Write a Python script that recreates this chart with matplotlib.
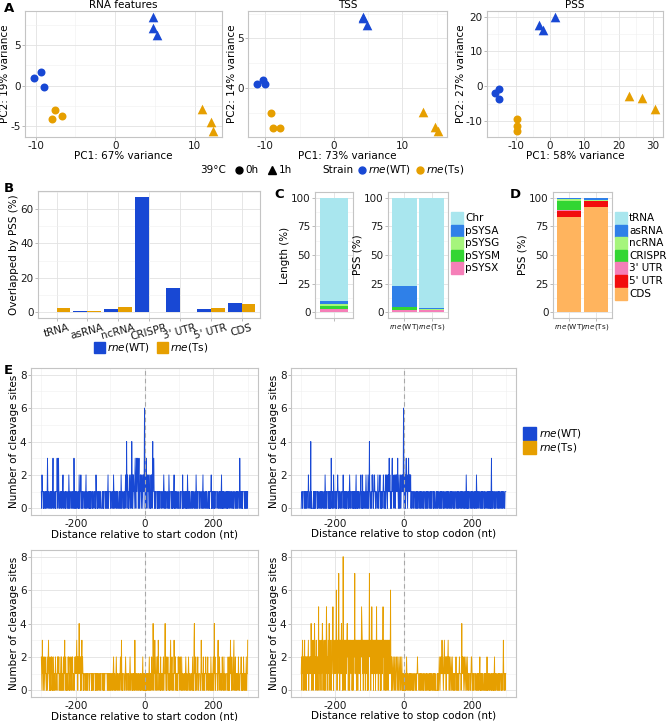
import numpy as np
import matplotlib.pyplot as plt
from matplotlib.patches import Rectangle
from matplotlib.ticker import MultipleLocator, AutoMinorLocator

plt.rcParams['axes.unicode_minus'] = False

# ---- data ---------------------------------------------------------------
strain = ['WT'] * 3 + ['Ts'] * 3 + ['WT'] * 3 + ['Ts'] * 3
hour = ['0h'] * 6 + ['1h'] * 6

rna_pc1 = [-10.2, -9.3, -9.0, -7.5, -7.9, -6.7, 4.8, 4.8, 5.2, 10.9, 12.0, 12.3]
rna_pc2 = [1.0, 1.7, -0.1, -3.0, -4.1, -3.7, 8.5, 7.1, 6.3, -2.9, -4.5, -5.6]
tss_pc1 = [-11.2, -10.3, -10.0, -9.1, -8.8, -7.8, 4.2, 4.3, 4.9, 13.0, 14.7, 15.2]
tss_pc2 = [0.4, 0.8, 0.4, -2.6, -4.1, -4.1, 7.2, 7.1, 6.4, -2.4, -4.0, -4.4]
pss_pc1 = [-14.9, -16.0, -14.9, -9.7, -9.7, -9.7, -3.1, -2.0, 1.4, 22.9, 26.9, 30.6]
pss_pc2 = [-0.8, -2.0, -3.7, -9.6, -11.5, -13.0, 17.7, 16.3, 20.0, -2.9, -3.4, -6.7]

features = ['tRNA', 'asRNA', 'ncRNA', 'CRISPR', "3' UTR", "5' UTR", 'CDS']
overlap_wt = [0.0, 0.5, 1.8, 67.0, 14.0, 1.8, 5.6]
overlap_ts = [2.3, 0.8, 3.1, 0.0, 0.0, 2.3, 5.0]

replicons = ['Chr', 'pSYSA', 'pSYSG', 'pSYSM', 'pSYSX']
length_pct = [90.5, 2.6, 1.1, 3.0, 2.8]
pss_rep_wt = [77.0, 18.0, 0.8, 2.0, 2.2]
pss_rep_ts = [96.6, 0.8, 0.3, 0.5, 1.8]

classes = ['tRNA', 'asRNA', 'ncRNA', 'CRISPR', "3' UTR", "5' UTR", 'CDS']
class_wt = [0.4, 0.7, 1.6, 8.3, 0.3, 5.7, 83.0]
class_ts = [0.4, 1.6, 1.0, 0.0, 0.2, 5.3, 91.5]

# cleavage sites per position, -300..300 nt (one digit per nt)
wt_start = """
1021110100 1101110131 0111001101 1011301110 0101113101
3100111011 0112011100 1011100110 2101110011 0111031010
1101110010 2101121011 0111001101 2011100110 1010111001
0011110102 1100101111 0110000110 1011110110 1101201111
1011100110 2101111011 0110001101 1021011100 1101120141
2101012102 1014202121 0123102312 3202310121 2012102212
6202131012 1210120102 1202412310 1101111010 1101101111
0111012101 1011100110 0210111101 1010112010 1101110010
0001101111 0201101110 1101021011 0110001101 1011100110
2101101111 0111001101 2011100110 1100011010 1111201011
0110101111 1011100110 1101201011 0110001101 1010111101
1101110010 0111001101 1011100311 0110101111 1011010110
1"""
wt_stop = """
0111011110 1101101111 0211100140 1000001010 1101111010
0111001101 1011100110 2101101111 0110101031 1011021110
1101011210 1011100110 0112101101 1010111001 0121011110
1101011010 1200101011 1001120110 2011001101 2101102101
4110011021 2101121101 1100121011 1201101011 1210110201
2110212131 2101102312 1102110212 1213101201 1201122121
6202120231 2102231212 1201101111 0111001101 1011100110
1101110010 0111001101 1011100110 1101111010 0110001101
1011100110 1101110010 0111001101 1011100110 1101110010
0111001101 1011100110 1101110010 0110210101 1011100110
1101110010 0110210111 1011100110 1101110010 0111001101
1011010130 1101110010 0111001101 1011100110 1101110011
1"""
ts_start = """
2103120121 0211101201 2311020102 1201021011 0211100212
1201101202 1011021130 1201011021 2010211012 1201100121
2123120212 4212020231 2101011110 1101101111 0111110101
1011111010 1101101111 0110111110 1011011111 1101101101
1011101101 2101100121 0110011101 2103101011 1100121011
1101100121 0111001011 1031101100 1101110010 1100120100
1010110101 1101201101 1201142011 3110210021 3201110201
1101120112 4110201121 1010123011 2011103121 2011010021
2110211021 0111001101 2101100121 0110011101 2010341102
1101120011 1100131101 1201101121 1011201101 1102101101
2014120111 1102311021 1101102110 1201110011 1102011021
3110211012 3011201101 1102110011 1201101021 1011012011
3"""
ts_stop = """
1202312021 3021202121 2302121214 2031202314 2120312021
2502131203 1243021302 1302531203 2142031203 2135203121
3126302313 7230313241 3038303230 3231342303 2303231320
1303232713 2303230323 1323032543 1303132303 2313030323
7323031523 1303132303 2513230323 1303032313 5230323032
3032303231 3261202101 2101200122 1012001210 1200121010
0101101012 1011100110 1101110010 0111001101 1211100110
1101110010 0111001101 1000110101 1011100110 1101000001
0110121012 1213121012 3121202121 2312021012 1012101101
1011210110 1101211110 1412121012 1012101210 1101111012
2101101111 0111001101 1011201011 0110001101 1011020101
1101110010 0110101201 1011100110 1101110010 0113101101
1"""

# ---- helpers ------------------------------------------------------------
BLUE = '#1848D4'
ORANGE = '#E69F00'
rep_cols = ['#A9E6EE', '#2F80E8', '#A6F57C', '#33D633', '#F57FB8']
class_cols = ['#A9E6EE', '#2F80E8', '#A6F57C', '#33D633', '#F57FB8', '#F20D0D', '#FFB45E']

W, H = 667, 721
fig = plt.figure(figsize=(W / 100, H / 100), dpi=100)
FS = 7.5


def px_axes(l, t, r, b):
    return fig.add_axes([l / W, 1 - b / H, (r - l) / W, (b - t) / H])


def light(ax):
    ax.set_facecolor('white')
    for s in ax.spines.values():
        s.set_color('#c4c4c4')
        s.set_linewidth(0.8)
    ax.grid(True, which='major', color='#e2e2e2', lw=0.6)
    ax.grid(True, which='minor', color='#f0f0f0', lw=0.4)
    ax.set_axisbelow(True)
    ax.tick_params(which='major', length=2.2, width=0.6, color='#b0b0b0',
                   labelsize=FS, labelcolor='#1a1a1a', pad=1)
    ax.tick_params(which='minor', length=0)


def counts(s):
    v = np.array([int(c) for c in ''.join(s.split())])
    assert len(v) == 601, len(v)
    return v


# ---- A: PCA -------------------------------------------------------------
pca = [('RNA features', rna_pc1, rna_pc2, 67, 19, (25, 11, 222, 137), 10, 5),
       ('TSS', tss_pc1, tss_pc2, 73, 14, (248, 11, 447, 137), 10, 5),
       ('PSS', pss_pc1, pss_pc2, 58, 27, (487, 11, 663, 137), 10, 10)]
for title, x, y, v1, v2, box, mx, my in pca:
    ax = px_axes(*box)
    light(ax)
    for i in range(len(x)):
        ax.scatter(x[i], y[i], s=33 if hour[i] == '0h' else 48,
                   marker='o' if hour[i] == '0h' else '^',
                   color=BLUE if strain[i] == 'WT' else ORANGE,
                   linewidths=0, zorder=3)
    ax.margins(0.05)
    ax.xaxis.set_major_locator(MultipleLocator(mx))
    ax.yaxis.set_major_locator(MultipleLocator(my))
    ax.xaxis.set_minor_locator(AutoMinorLocator(2))
    ax.yaxis.set_minor_locator(AutoMinorLocator(2))
    ax.set_title(title, fontsize=FS, pad=2)
    ax.set_xlabel(f'PC1: {v1}% variance', fontsize=FS, labelpad=0)
    ax.set_ylabel(f'PC2: {v2}% variance', fontsize=FS, labelpad=0)

# ---- B: overlap bars ----------------------------------------------------
axb = px_axes(38, 191, 260, 318)
light(axb)
xb = np.arange(len(features))
axb.bar(xb - 0.225, overlap_wt, 0.45, color=BLUE, zorder=3)
axb.bar(xb + 0.225, overlap_ts, 0.45, color=ORANGE, zorder=3)
top = max(overlap_wt)
axb.set_xlim(-0.6, len(features) - 0.4)
axb.set_ylim(-0.05 * top, 1.05 * top)
axb.yaxis.set_major_locator(MultipleLocator(20))
axb.yaxis.set_minor_locator(MultipleLocator(10))
axb.set_xticks(xb)
axb.set_xticklabels(features, rotation=15, ha='center', fontsize=FS)
axb.set_ylabel('Overlapped by PSS (%)', fontsize=FS, labelpad=1)


# ---- C / D: stacked bars ------------------------------------------------
def stacked(ax, cols_data, colors, nbars):
    xs = np.arange(nbars)
    bottom = np.zeros(nbars)
    n = len(cols_data[0])
    for k in range(n - 1, -1, -1):
        h = np.array([c[k] for c in cols_data])
        ax.bar(xs, h, 0.9, bottom=bottom, color=colors[k], zorder=3)
        bottom += h
    ax.set_xlim(-0.6, nbars - 0.4)
    ax.set_ylim(-5, 105)
    ax.yaxis.set_major_locator(MultipleLocator(25))
    ax.yaxis.set_minor_locator(MultipleLocator(12.5))
    ax.set_xticks(xs)


strain_lbl = [r'$\it{rne}$(WT)', r'$\it{rne}$(Ts)']

axc1 = px_axes(315, 192, 353, 318)
light(axc1)
stacked(axc1, [length_pct], rep_cols, 1)
axc1.set_xticklabels([''])
axc1.set_ylabel('Length (%)', fontsize=FS, labelpad=1)

axc2 = px_axes(388, 192, 448, 318)
light(axc2)
stacked(axc2, [pss_rep_wt, pss_rep_ts], rep_cols, 2)
axc2.set_xticklabels(strain_lbl, fontsize=5.2)
axc2.set_ylabel('PSS (%)', fontsize=FS, labelpad=1)

axd = px_axes(553, 192, 612, 318)
light(axd)
stacked(axd, [class_wt, class_ts], class_cols, 2)
axd.set_xticklabels(strain_lbl, fontsize=5.2)
axd.set_ylabel('PSS (%)', fontsize=FS, labelpad=1)

# ---- E: cleavage-site profiles ------------------------------------------
pos = np.arange(-300, 301)
prof = [(wt_start, BLUE, 'start', (31, 368, 258, 515)),
        (wt_stop, BLUE, 'stop', (291, 368, 516, 515)),
        (ts_start, ORANGE, 'start', (31, 550, 258, 697)),
        (ts_stop, ORANGE, 'stop', (291, 550, 516, 697))]
for s, col, kind, box in prof:
    ax = px_axes(*box)
    light(ax)
    ax.plot(pos, counts(s), color=col, lw=0.65, zorder=3)
    ax.axvline(0, color='#a8a8a8', lw=0.8, ls=(0, (4, 3)), zorder=4)
    ax.set_xlim(-330, 330)
    ax.set_ylim(-0.4, 8.4)
    ax.xaxis.set_major_locator(MultipleLocator(200))
    ax.xaxis.set_minor_locator(MultipleLocator(100))
    ax.yaxis.set_major_locator(MultipleLocator(2))
    ax.yaxis.set_minor_locator(MultipleLocator(1))
    ax.set_xlabel(f'Distance relative to {kind} codon (nt)', fontsize=FS, labelpad=0)
    ax.set_ylabel('Number of cleavage sites', fontsize=FS, labelpad=1)

# ---- overlay: panel letters and legends ---------------------------------
ov = fig.add_axes([0, 0, 1, 1])
ov.set_xlim(0, W)
ov.set_ylim(H, 0)
ov.axis('off')

for letter, lx, ly in [('A', 4, 9), ('B', 4, 189), ('C', 274, 194),
                       ('D', 510, 194), ('E', 4, 370)]:
    ov.text(lx, ly, letter, fontsize=9.5, fontweight='bold', va='center')

# A legend row
ly = 170
ov.text(200, ly, '39°C', fontsize=FS, va='center')
ov.plot(239, ly, 'o', color='k', ms=5)
ov.text(245, ly, '0h', fontsize=FS, va='center')
ov.plot(272, ly, '^', color='k', ms=6)
ov.text(279, ly, '1h', fontsize=FS, va='center')
ov.text(322, ly, 'Strain', fontsize=FS, va='center')
ov.plot(362, ly, 'o', color=BLUE, ms=5)
ov.text(368, ly, strain_lbl[0], fontsize=FS, va='center')
ov.plot(420, ly, 'o', color=ORANGE, ms=5)
ov.text(426, ly, strain_lbl[1], fontsize=FS, va='center')

# B legend
ov.add_patch(Rectangle((94, 342), 11, 11, color=BLUE))
ov.text(107, 347.5, strain_lbl[0], fontsize=FS, va='center')
ov.add_patch(Rectangle((157, 342), 11, 11, color=ORANGE))
ov.text(170, 347.5, strain_lbl[1], fontsize=FS, va='center')

# C and D legends
for k, name in enumerate(replicons):
    y0 = 212 + k * 12.6
    ov.add_patch(Rectangle((451, y0), 12, 12, color=rep_cols[k]))
    ov.text(465, y0 + 6, name, fontsize=FS, va='center')
for k, name in enumerate(classes):
    y0 = 212 + k * 12.6
    ov.add_patch(Rectangle((615, y0), 12, 12, color=class_cols[k]))
    ov.text(629, y0 + 6, name, fontsize=FS, va='center')

# E legend
ov.add_patch(Rectangle((523, 427), 13, 13, color=BLUE))
ov.text(539, 433.5, strain_lbl[0], fontsize=FS, va='center')
ov.add_patch(Rectangle((523, 441), 13, 13, color=ORANGE))
ov.text(539, 447.5, strain_lbl[1], fontsize=FS, va='center')

fig.savefig('out.png', dpi=100)
